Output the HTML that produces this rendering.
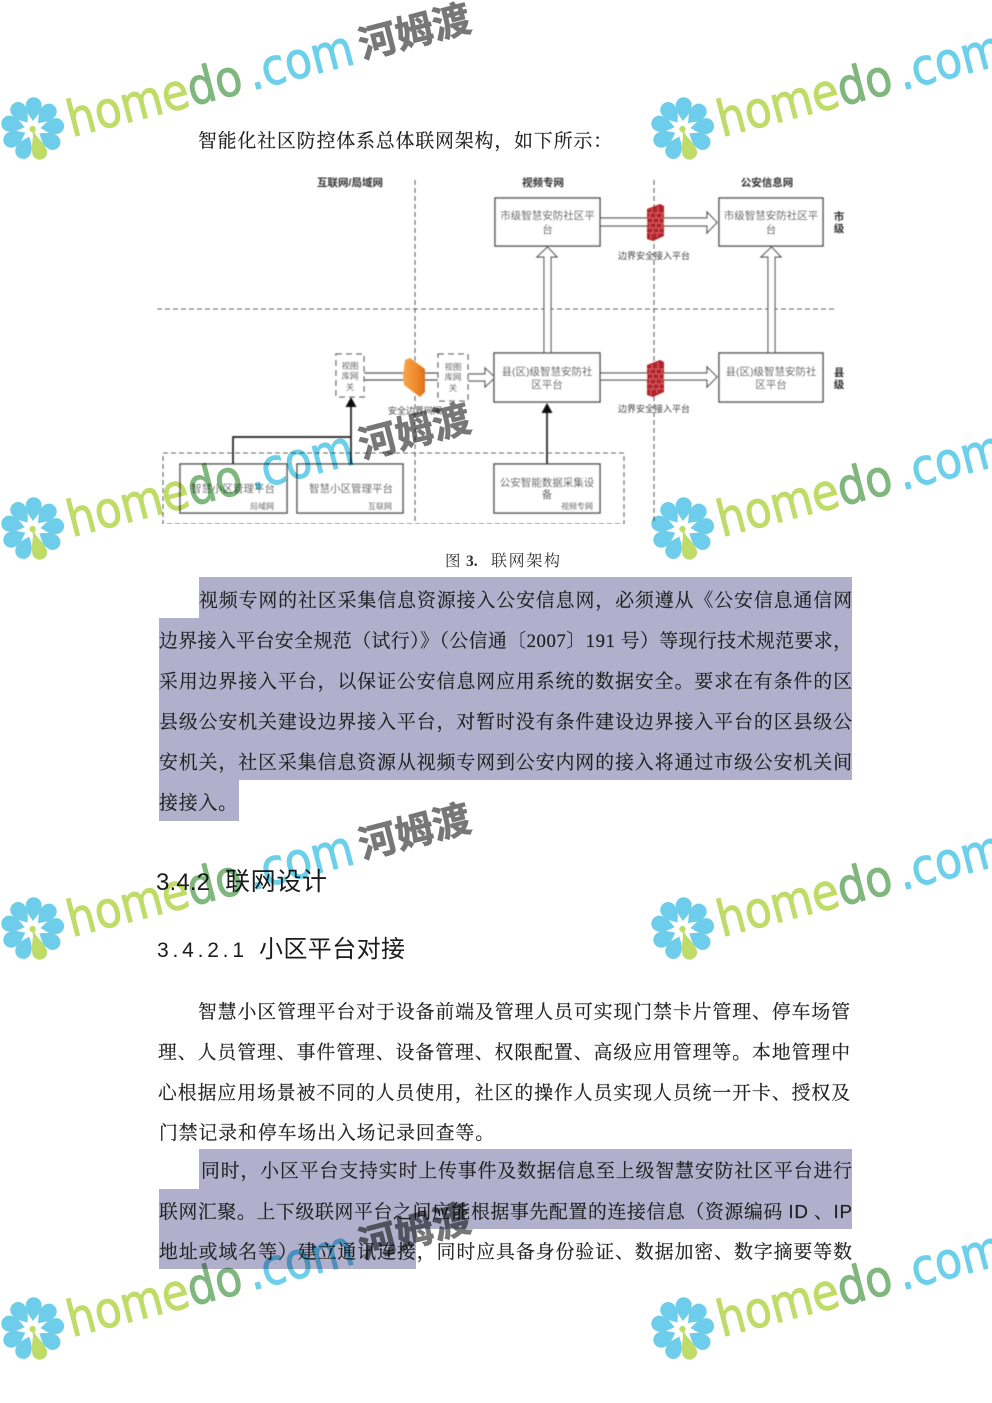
<!DOCTYPE html>
<html lang="zh">
<head>
<meta charset="utf-8">
<title>联网架构</title>
<style>
html,body{margin:0;padding:0;background:#fff;width:992px;height:1403px;overflow:hidden}
svg{display:block}
.b{font-family:"Liberation Serif","Noto Serif CJK SC",serif;font-size:18.8px;fill:#222;stroke:#222;stroke-width:.2}
.h{font-family:"Liberation Sans","Noto Sans CJK SC",sans-serif;fill:#1c1c1c}
.d{font-family:"Liberation Sans","Noto Sans CJK SC",sans-serif;fill:#444;text-anchor:middle}
.t{font-weight:700;font-size:10.5px;fill:#333}
.box{fill:#fff;stroke:#555;stroke-width:1.5}
.hollow{fill:#fff;stroke:#555;stroke-width:1.2}
.dash{fill:none;stroke:#666;stroke-width:1.1;stroke-dasharray:5 3}
.wm{mix-blend-mode:multiply}
.w{font-family:"DejaVu Sans",sans-serif;font-size:50px;stroke-width:1}
.wc{font-family:"Liberation Sans","Noto Sans CJK SC",sans-serif;font-size:38px;font-weight:700;fill:#777;stroke:#777;stroke-width:.7}
</style>
</head>
<body>
<svg xmlns="http://www.w3.org/2000/svg" width="992" height="1403" viewBox="0 0 992 1403">
<defs>
<filter id="bl" x="0" y="0" width="100%" height="100%"><feGaussianBlur stdDeviation="0.55"/></filter>
<filter id="bs" x="0" y="0" width="100%" height="100%"><feGaussianBlur stdDeviation="0.25"/></filter>
<linearGradient id="or" x1="0" y1="0" x2="1" y2="0"><stop offset="0" stop-color="#f7a64a"/><stop offset=".6" stop-color="#ef8a2c"/><stop offset="1" stop-color="#d9701c"/></linearGradient>
<g id="fw">
<polygon points="0,5 13,0 17,2 17,32 6,37 0,35" fill="#b3202a"/>
<path d="M0,9H17M0,14H17M0,19H17M0,24H17M0,29H17M5,4V9M11,2V9M3,9V14M9,9V14M15,9V14M6,14V19M12,14V19M3,19V24M9,19V24M15,19V24M6,24V29M12,24V29M4,29V35M10,29V33" stroke="#e88" stroke-width=".6" fill="none"/>
</g>
<g id="fl">
<g fill="#6dcdea">
<path transform="rotate(20)" d="M0,-7.500C-2,-11-7.500,-15-7.500,-22.500A7.500,7.500 0 1 1 7.500,-22.500C7.500,-15 2,-11 0,-7.500Z"/>
<path transform="rotate(60)" d="M0,-7.500C-2,-11-7.500,-15-7.500,-22.500A7.500,7.500 0 1 1 7.500,-22.500C7.500,-15 2,-11 0,-7.500Z"/>
<path transform="rotate(100)" d="M0,-7.500C-2,-11-7.500,-15-7.500,-22.500A7.500,7.500 0 1 1 7.500,-22.500C7.500,-15 2,-11 0,-7.500Z"/>
<path transform="rotate(140)" d="M0,-7.500C-2,-11-7.500,-15-7.500,-22.500A7.500,7.500 0 1 1 7.500,-22.500C7.500,-15 2,-11 0,-7.500Z"/>
<path transform="rotate(-20)" d="M0,-7.500C-2,-11-7.500,-15-7.500,-22.500A7.500,7.500 0 1 1 7.500,-22.500C7.500,-15 2,-11 0,-7.500Z"/>
<path transform="rotate(-60)" d="M0,-7.500C-2,-11-7.500,-15-7.500,-22.500A7.500,7.500 0 1 1 7.500,-22.500C7.500,-15 2,-11 0,-7.500Z"/>
<path transform="rotate(-100)" d="M0,-7.500C-2,-11-7.500,-15-7.500,-22.500A7.500,7.500 0 1 1 7.500,-22.500C7.500,-15 2,-11 0,-7.500Z"/>
<path transform="rotate(-140)" d="M0,-7.500C-2,-11-7.500,-15-7.500,-22.500A7.500,7.500 0 1 1 7.500,-22.500C7.500,-15 2,-11 0,-7.500Z"/>
</g>
<circle cx="0" cy="0" r="3" fill="#bfdc68"/>
<path d="M-.8,2C-.8,9-7,15-7,23A7,7 0 0 0 7,23C7,15 .8,9 .8,2Z" fill="#bfdc68"/>
</g>
</defs>

<!-- highlights -->
<path d="M199,577H852V780H239V821H159V618H199Z" fill="#b0b0cc"/>
<path d="M199,1149H852V1229H416V1269H159V1189H199Z" fill="#b0b0cc"/>

<!-- body text -->
<g filter="url(#bs)">
<text class="b" x="198" y="147" textLength="414">智能化社区防控体系总体联网架构，如下所示：</text>
<g style="font-family:'Liberation Serif','Noto Serif CJK SC',serif;fill:#333">
<text x="445" y="566" font-size="15.500">图</text>
<text x="466" y="566" font-size="15.500" font-weight="700">3.</text>
<text x="491" y="566" font-size="16" textLength="69">联网架构</text>
</g>

<text class="b" x="199" y="606.500" textLength="653">视频专网的社区采集信息资源接入公安信息网，必须遵从《公安信息通信网</text>
<text class="b" x="159" y="647" textLength="693">边界接入平台安全规范（试行）》（公信通〔2007〕191 号）等现行技术规范要求，</text>
<text class="b" x="159" y="687.500" textLength="693">采用边界接入平台，以保证公安信息网应用系统的数据安全。要求在有条件的区</text>
<text class="b" x="159" y="728" textLength="693">县级公安机关建设边界接入平台，对暂时没有条件建设边界接入平台的区县级公</text>
<text class="b" x="159" y="768.500" textLength="693">安机关，社区采集信息资源从视频专网到公安内网的接入将通过市级公安机关间</text>
<text class="b" x="159" y="809" textLength="78">接接入。</text>

<text class="h" x="156" y="890" font-size="24" textLength="54">3.4.2</text>
<text class="h" x="225" y="890" font-size="25" textLength="102">联网设计</text>
<text class="h" x="157" y="957" font-size="21" textLength="87">3.4.2.1</text>
<text class="h" x="259" y="957" font-size="24" textLength="146">小区平台对接</text>

<text class="b" x="198" y="1018" textLength="652">智慧小区管理平台对于设备前端及管理人员可实现门禁卡片管理、停车场管</text>
<text class="b" x="158" y="1058.500" textLength="692">理、人员管理、事件管理、设备管理、权限配置、高级应用管理等。本地管理中</text>
<text class="b" x="158" y="1099" textLength="692">心根据应用场景被不同的人员使用，社区的操作人员实现人员统一开卡、授权及</text>
<text class="b" x="159" y="1139" textLength="335">门禁记录和停车场出入场记录回查等。</text>

<text class="b" x="201" y="1177" textLength="651">同时，小区平台支持实时上传事件及数据信息至上级智慧安防社区平台进行</text>
<text class="b" x="159" y="1218" textLength="693">联网汇聚。上下级联网平台之间应能根据事先配置的连接信息（资源编码 <tspan style="font-family:'Liberation Sans',sans-serif">ID</tspan> 、<tspan style="font-family:'Liberation Sans',sans-serif">IP</tspan></text>
<text class="b" x="159" y="1258" textLength="693">地址或域名等）建立通讯连接，同时应具备身份验证、数据加密、数字摘要等数</text>
</g>

<!-- diagram -->
<g filter="url(#bl)">
<path class="dash" d="M415,180V524M654,180V524M157,309H835"/>
<rect class="dash" x="163" y="453" width="461" height="71" stroke-width="1.300"/>

<!-- hollow arrows -->
<path class="hollow" d="M544,353V257H537L547.500,247L557,257H551V353Z"/>
<path class="hollow" d="M768,353V257H761L771.500,247L781,257H775V353Z"/>
<path class="hollow" d="M600,218H707V212L717,222.500L707,233V226H600Z"/>
<path class="hollow" d="M600,373H707V367L717,377L707,387V380H600Z"/>
<path class="hollow" d="M468,374H485V368L495,377.500L485,387V381H468Z"/>
<path d="M364,373H438M364,380H438" stroke="#555" stroke-width="1.300" fill="none"/>

<!-- boxes -->
<rect class="box" x="495" y="198" width="105" height="48"/>
<rect class="box" x="719" y="198" width="104" height="48"/>
<rect class="box" x="494" y="353" width="106" height="49"/>
<rect class="box" x="719" y="353" width="104" height="49"/>
<rect class="box" x="494" y="464" width="106" height="49"/>
<rect class="box" x="180" y="464" width="107" height="49"/>
<rect class="box" x="297" y="464" width="106" height="49"/>
<rect x="336" y="354" width="28" height="43" fill="#fff" stroke="#666" stroke-width="1.300" stroke-dasharray="6 4"/>
<rect x="438" y="354" width="30" height="47" fill="#fff" stroke="#666" stroke-width="1.300" stroke-dasharray="6 4"/>

<!-- solid arrows -->
<path d="M233,464V437H351M351,464V405M547,464V411" stroke="#222" stroke-width="1.700" fill="none"/>
<polygon points="351,397 345.500,407 356.500,407" fill="#111"/>
<polygon points="547,403 541.500,413 552.500,413" fill="#111"/>

<!-- icons -->
<polygon points="405,360 410,358 425,369 425,392 420,397 404,385 403,376" fill="url(#or)"/>
<use href="#fw" x="647" y="204"/>
<use href="#fw" x="647" y="360"/>

<!-- labels -->
<text class="d t" x="350" y="186">互联网/局域网</text>
<text class="d t" x="543" y="186">视频专网</text>
<text class="d t" x="767" y="186">公安信息网</text>
<text class="d t" x="839" y="220">市</text>
<text class="d t" x="839" y="232">级</text>
<text class="d t" x="839" y="376">县</text>
<text class="d t" x="839" y="388">级</text>

<text class="d" font-size="10.500" x="547.500" y="219">市级智慧安防社区平</text>
<text class="d" font-size="10.500" x="547.500" y="233">台</text>
<text class="d" font-size="10.500" x="771" y="219">市级智慧安防社区平</text>
<text class="d" font-size="10.500" x="771" y="233">台</text>
<text class="d" font-size="10.500" x="547" y="375">县(区)级智慧安防社</text>
<text class="d" font-size="10.500" x="547" y="388">区平台</text>
<text class="d" font-size="10.500" x="771" y="375">县(区)级智慧安防社</text>
<text class="d" font-size="10.500" x="771" y="388">区平台</text>
<text class="d" font-size="10.500" x="547" y="486">公安智能数据采集设</text>
<text class="d" font-size="10.500" x="547" y="498">备</text>
<text class="d" font-size="8" x="577" y="509">视频专网</text>
<text class="d" font-size="10.500" x="233" y="492">智慧小区管理平台</text>
<text class="d" font-size="8" x="262" y="509">局域网</text>
<text class="d" font-size="10.500" x="351" y="492">智慧小区管理平台</text>
<text class="d" font-size="8" x="380" y="509">互联网</text>
<text class="d" font-size="8.500" x="350" y="369">视图</text>
<text class="d" font-size="8.500" x="350" y="379">库网</text>
<text class="d" font-size="8.500" x="350" y="390">关</text>
<text class="d" font-size="8.500" x="453" y="370">视图</text>
<text class="d" font-size="8.500" x="453" y="380">库网</text>
<text class="d" font-size="8.500" x="453" y="391">关</text>
<text class="d" font-size="9" x="415" y="414">安全边界网闸</text>
<text class="d" font-size="9" x="654" y="259">边界安全接入平台</text>
<text class="d" font-size="9" x="654" y="412">边界安全接入平台</text>
</g>

<!-- watermarks -->
<g class="wm" filter="url(#bs)">
<g transform="translate(0,0)">
<use href="#fl" transform="translate(32.500,129) rotate(-17) scale(1.060)"/>
<g transform="translate(72,137) rotate(-14.500)">
<text class="w" x="0" y="0" fill="#bfdc68" stroke="#bfdc68" textLength="124" lengthAdjust="spacingAndGlyphs">home</text>
<text class="w" x="124" y="0" fill="#7fb77e" stroke="#7fb77e" textLength="55" lengthAdjust="spacingAndGlyphs">do</text>
<text class="w" x="186" y="0" fill="#6dd0ea" stroke="#6dd0ea" textLength="108" lengthAdjust="spacingAndGlyphs">.com</text>
<text class="wc" x="301" y="-3" textLength="114">河姆渡</text>
</g>
</g>
<g transform="translate(0,400)">
<use href="#fl" transform="translate(32.500,129) rotate(-17) scale(1.060)"/>
<g transform="translate(72,137) rotate(-14.500)">
<text class="w" x="0" y="0" fill="#bfdc68" stroke="#bfdc68" textLength="124" lengthAdjust="spacingAndGlyphs">home</text>
<text class="w" x="124" y="0" fill="#7fb77e" stroke="#7fb77e" textLength="55" lengthAdjust="spacingAndGlyphs">do</text>
<text class="w" x="186" y="0" fill="#6dd0ea" stroke="#6dd0ea" textLength="108" lengthAdjust="spacingAndGlyphs">.com</text>
<text class="wc" x="301" y="-3" textLength="114">河姆渡</text>
</g>
</g>
<g transform="translate(0,800)">
<use href="#fl" transform="translate(32.500,129) rotate(-17) scale(1.060)"/>
<g transform="translate(72,137) rotate(-14.500)">
<text class="w" x="0" y="0" fill="#bfdc68" stroke="#bfdc68" textLength="124" lengthAdjust="spacingAndGlyphs">home</text>
<text class="w" x="124" y="0" fill="#7fb77e" stroke="#7fb77e" textLength="55" lengthAdjust="spacingAndGlyphs">do</text>
<text class="w" x="186" y="0" fill="#6dd0ea" stroke="#6dd0ea" textLength="108" lengthAdjust="spacingAndGlyphs">.com</text>
<text class="wc" x="301" y="-3" textLength="114">河姆渡</text>
</g>
</g>
<g transform="translate(0,1200)">
<use href="#fl" transform="translate(32.500,129) rotate(-17) scale(1.060)"/>
<g transform="translate(72,137) rotate(-14.500)">
<text class="w" x="0" y="0" fill="#bfdc68" stroke="#bfdc68" textLength="124" lengthAdjust="spacingAndGlyphs">home</text>
<text class="w" x="124" y="0" fill="#7fb77e" stroke="#7fb77e" textLength="55" lengthAdjust="spacingAndGlyphs">do</text>
<text class="w" x="186" y="0" fill="#6dd0ea" stroke="#6dd0ea" textLength="108" lengthAdjust="spacingAndGlyphs">.com</text>
<text class="wc" x="301" y="-3" textLength="114">河姆渡</text>
</g>
</g>
<g transform="translate(650,0)">
<use href="#fl" transform="translate(32.500,129) rotate(-17) scale(1.060)"/>
<g transform="translate(72,137) rotate(-14.500)">
<text class="w" x="0" y="0" fill="#bfdc68" stroke="#bfdc68" textLength="124" lengthAdjust="spacingAndGlyphs">home</text>
<text class="w" x="124" y="0" fill="#7fb77e" stroke="#7fb77e" textLength="55" lengthAdjust="spacingAndGlyphs">do</text>
<text class="w" x="186" y="0" fill="#6dd0ea" stroke="#6dd0ea" textLength="108" lengthAdjust="spacingAndGlyphs">.com</text>
</g>
</g>
<g transform="translate(650,400)">
<use href="#fl" transform="translate(32.500,129) rotate(-17) scale(1.060)"/>
<g transform="translate(72,137) rotate(-14.500)">
<text class="w" x="0" y="0" fill="#bfdc68" stroke="#bfdc68" textLength="124" lengthAdjust="spacingAndGlyphs">home</text>
<text class="w" x="124" y="0" fill="#7fb77e" stroke="#7fb77e" textLength="55" lengthAdjust="spacingAndGlyphs">do</text>
<text class="w" x="186" y="0" fill="#6dd0ea" stroke="#6dd0ea" textLength="108" lengthAdjust="spacingAndGlyphs">.com</text>
</g>
</g>
<g transform="translate(650,800)">
<use href="#fl" transform="translate(32.500,129) rotate(-17) scale(1.060)"/>
<g transform="translate(72,137) rotate(-14.500)">
<text class="w" x="0" y="0" fill="#bfdc68" stroke="#bfdc68" textLength="124" lengthAdjust="spacingAndGlyphs">home</text>
<text class="w" x="124" y="0" fill="#7fb77e" stroke="#7fb77e" textLength="55" lengthAdjust="spacingAndGlyphs">do</text>
<text class="w" x="186" y="0" fill="#6dd0ea" stroke="#6dd0ea" textLength="108" lengthAdjust="spacingAndGlyphs">.com</text>
</g>
</g>
<g transform="translate(650,1200)">
<use href="#fl" transform="translate(32.500,129) rotate(-17) scale(1.060)"/>
<g transform="translate(72,137) rotate(-14.500)">
<text class="w" x="0" y="0" fill="#bfdc68" stroke="#bfdc68" textLength="124" lengthAdjust="spacingAndGlyphs">home</text>
<text class="w" x="124" y="0" fill="#7fb77e" stroke="#7fb77e" textLength="55" lengthAdjust="spacingAndGlyphs">do</text>
<text class="w" x="186" y="0" fill="#6dd0ea" stroke="#6dd0ea" textLength="108" lengthAdjust="spacingAndGlyphs">.com</text>
</g>
</g>
</g>
</svg>
</body>
</html>
